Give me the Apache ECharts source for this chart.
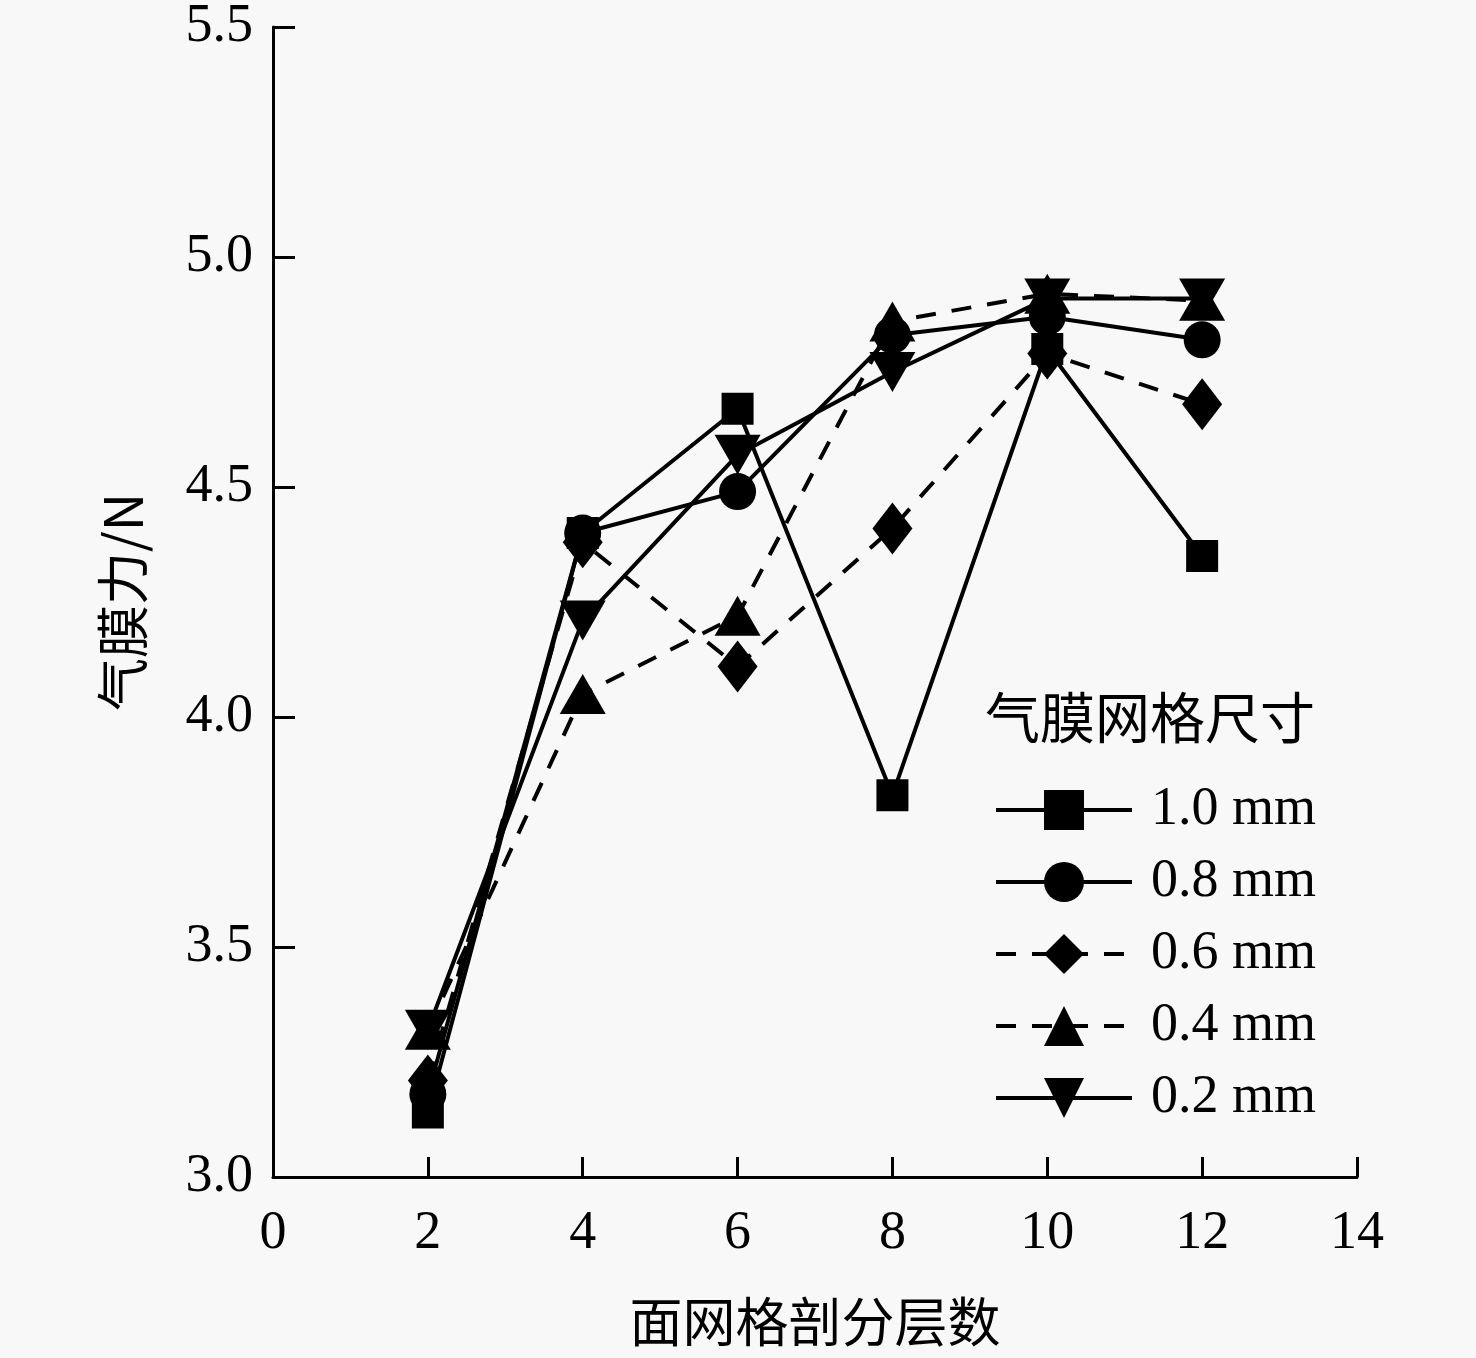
<!doctype html>
<html lang="zh">
  <head>
    <meta charset="UTF-8" />
    <title>气膜力</title>
    <style>
      html, body { margin: 0; padding: 0; background: #f8f8f8; }
      #chart1 { width: 1476px; height: 1358px; }
    </style>
  </head>
  <body>
    <div id="chart1"></div>
    <script src="https://cdn.jsdelivr.net/npm/echarts@6.0.0/dist/echarts.min.js"></script>
    <script>
      // 面网格剖分层数
      const layers = [2, 4, 6, 8, 10, 12];
      // 气膜力/N for each membrane mesh size
      const mesh10 = [3.14, 4.4, 4.67, 3.83, 4.8, 4.35];
      const mesh08 = [3.18, 4.4, 4.49, 4.83, 4.87, 4.82];
      const mesh06 = [3.21, 4.38, 4.11, 4.41, 4.79, 4.68];
      const mesh04 = [3.32, 4.05, 4.22, 4.86, 4.92, 4.905];
      const mesh02 = [3.32, 4.21, 4.57, 4.75, 4.91, 4.91];
      const seriesNames = ["1.0 mm", "0.8 mm", "0.6 mm", "0.4 mm", "0.2 mm"];

      const serif = "'Liberation Serif', 'Times New Roman', serif";
      const cjk = "'Noto Sans CJK SC', sans-serif";
      const dashed = [20, 16];

      const pairs = (ys) => layers.map((x, i) => [x, ys[i]]);

      const makeSeries = (name, ys, symbol, size, dash, rotate) => ({
        name: name,
        type: "line",
        data: pairs(ys),
        symbol: symbol,
        symbolSize: size,
        symbolRotate: rotate || 0,
        showSymbol: true,
        lineStyle: { color: "#000", width: 4, type: dash ? dashed : "solid" },
        itemStyle: { color: "#000" },
        emphasis: { disabled: true },
        z: 3,
      });

      const myChart = echarts.init(document.querySelector("#chart1"));

      const option = {
        backgroundColor: "#f8f8f8",
        animation: false,
        title: {
          text: "气膜网格尺寸",
          left: 980,
          top: 685,
          textStyle: { fontFamily: cjk, fontSize: 55, fontWeight: "normal", color: "#000" },
        },
        legend: {
          data: seriesNames,
          orient: "vertical",
          left: 994,
          top: 783,
          padding: 0,
          itemWidth: 136,
          itemHeight: 50,
          itemGap: 18,
          lineStyle: { width: 4 },
          textStyle: {
            fontFamily: serif,
            fontSize: 54,
            color: "#000",
            padding: [0, 0, 0, 14],
          },
        },
        grid: { left: 273, right: 119, top: 24, bottom: 181 },
        xAxis: {
          type: "value",
          min: 0,
          max: 14,
          interval: 2,
          name: "面网格剖分层数",
          nameLocation: "middle",
          nameGap: 118,
          nameTextStyle: { fontFamily: cjk, fontSize: 53, color: "#000" },
          axisLine: { lineStyle: { color: "#000", width: 3 } },
          axisTick: { inside: true, length: 20, lineStyle: { color: "#000", width: 3 } },
          axisLabel: { fontFamily: serif, fontSize: 54, color: "#000", margin: 30 },
          splitLine: { show: false },
        },
        yAxis: {
          type: "value",
          min: 3,
          max: 5.5,
          interval: 0.5,
          name: "气膜力/N",
          nameLocation: "middle",
          nameRotate: 90,
          nameGap: 124,
          nameTextStyle: { fontFamily: cjk, fontSize: 53, color: "#000" },
          axisLine: { show: true, lineStyle: { color: "#000", width: 3 } },
          axisTick: { show: true, inside: true, length: 22, lineStyle: { color: "#000", width: 3 } },
          axisLabel: {
            fontFamily: serif,
            fontSize: 54,
            color: "#000",
            margin: 20,
            formatter: (v) => v.toFixed(1),
          },
          splitLine: { show: false },
        },
        series: [
          makeSeries(seriesNames[0], mesh10, "rect", 32, false),
          makeSeries(seriesNames[1], mesh08, "circle", 37, false),
          makeSeries(seriesNames[2], mesh06, "diamond", [40, 52], true),
          makeSeries(seriesNames[3], mesh04, "triangle", [46, 40], true),
          makeSeries(seriesNames[4], mesh02, "triangle", [46, 40], false, 180),
        ],
      };

      myChart.setOption(option);
    </script>
  </body>
</html>
